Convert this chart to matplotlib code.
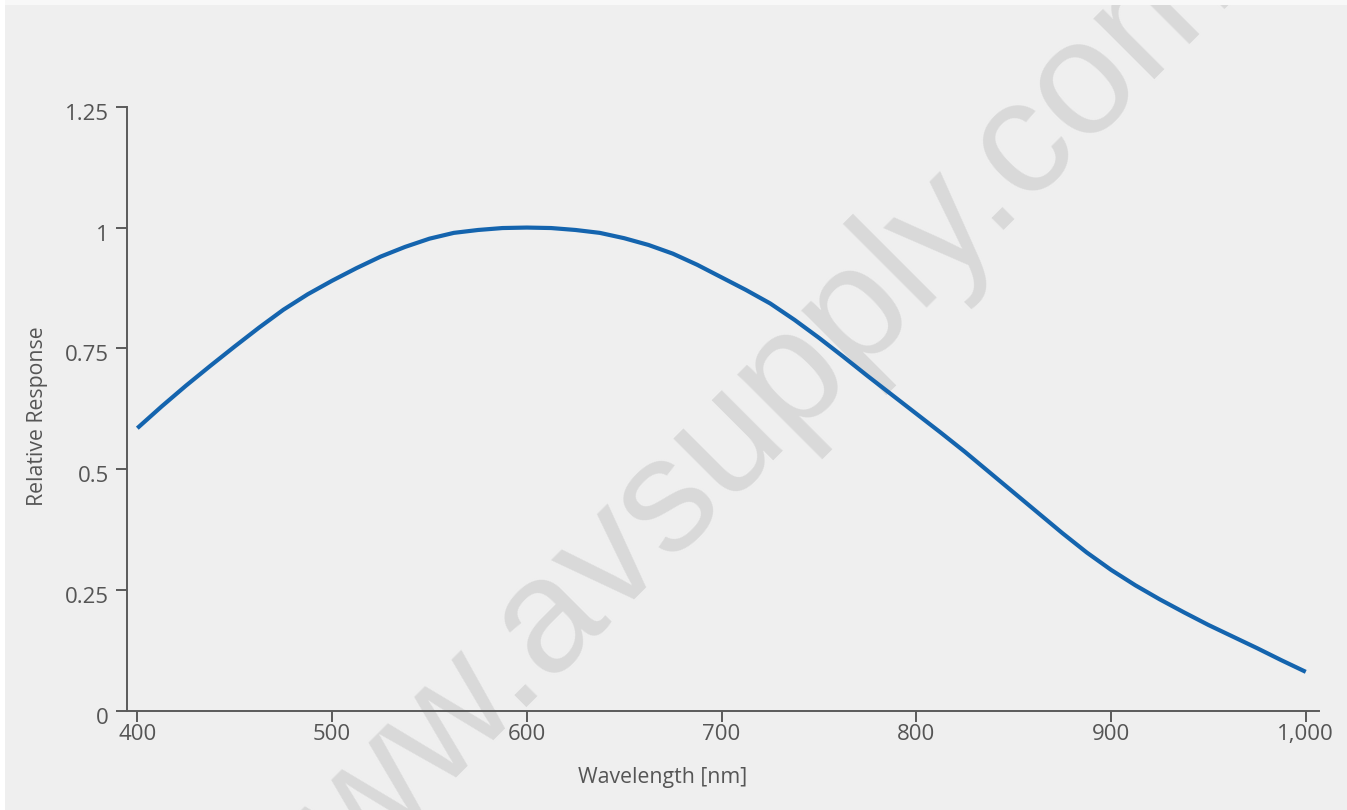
import matplotlib
matplotlib.use("Agg")
import matplotlib.pyplot as plt
from matplotlib.patches import Rectangle
from matplotlib.ticker import FuncFormatter
import matplotlib.transforms as mtransforms

# ---- data ----
wavelength_nm = [400, 412.5, 425, 437.5, 450, 462.5, 475, 487.5, 500, 512.5, 525, 537.5,
                 550, 562.5, 575, 587.5, 600, 612.5, 625, 637.5, 650, 662.5, 675, 687.5,
                 700, 712.5, 725, 737.5, 750, 762.5, 775, 787.5, 800, 812.5, 825, 837.5,
                 850, 862.5, 875, 887.5, 900, 912.5, 925, 937.5, 950, 962.5, 975, 987.5,
                 1000]
relative_response = [0.585, 0.630, 0.673, 0.714, 0.754, 0.793, 0.830, 0.862, 0.890,
                     0.916, 0.940, 0.960, 0.977, 0.989, 0.995, 0.999, 1.000, 0.999,
                     0.995, 0.989, 0.978, 0.964, 0.946, 0.923, 0.897, 0.871, 0.843,
                     0.809, 0.772, 0.733, 0.693, 0.654, 0.615, 0.576, 0.536, 0.494,
                     0.452, 0.410, 0.368, 0.328, 0.292, 0.260, 0.231, 0.204, 0.178,
                     0.154, 0.130, 0.105, 0.081]
x_ticks = [400, 500, 600, 700, 800, 900, 1000]
y_ticks = [0, 0.25, 0.5, 0.75, 1, 1.25]
y_tick_labels = ["0", "0.25", "0.5", "0.75", "1", "1.25"]
x_label = "Wavelength [nm]"
y_label = "Relative Response"
watermark = "www.avsupply.com"

W, H = 1347, 810
DPI = 100
plt.rcParams['font.family'] = ['Open Sans', 'DejaVu Sans']
TXT = "#555555"
AX = "#5a5a5a"

fig = plt.figure(figsize=(W / DPI, H / DPI), dpi=DPI, facecolor="white")

# background panel
fig.patches.append(Rectangle((5 / W, 0), 1 - 5 / W, 1 - 5 / H, transform=fig.transFigure,
                             facecolor="#efefef", edgecolor="none", zorder=-3))
# watermark
fig.text(759 / W, 1 - 476 / H, watermark, rotation=45, rotation_mode="anchor",
         ha="center", va="baseline", fontsize=117, color="#d9d9d9",
         family=["Liberation Sans", "DejaVu Sans"], zorder=-2)
# light strips on top / left covering watermark
fig.patches.append(Rectangle((0, 1 - 5 / H), 1, 5 / H, transform=fig.transFigure,
                             facecolor="#f8f8f8", edgecolor="none", zorder=-1))
fig.patches.append(Rectangle((0, 0), 5 / W, 1, transform=fig.transFigure,
                             facecolor="white", edgecolor="none", zorder=-1))

left, right = 127 / W, 1319 / W
bottom, top = 1 - 711 / H, 1 - 106.7 / H
ax = fig.add_axes([left, bottom, right - left, top - bottom])
ax.patch.set_visible(False)

ax.plot(wavelength_nm, relative_response, color="#1464ae", lw=3.0,
        solid_capstyle="butt", solid_joinstyle="round", zorder=3)

ax.set_xlim(394.7, 1006.8)
ax.set_ylim(0, 1.25)
ax.set_xticks(x_ticks)
ax.xaxis.set_major_formatter(FuncFormatter(lambda v, p: f"{int(v):,}"))
ax.set_yticks(y_ticks)
ax.set_yticklabels(y_tick_labels)

for s in ["top", "right"]:
    ax.spines[s].set_visible(False)
for s in ["left", "bottom"]:
    ax.spines[s].set_color(AX)
    ax.spines[s].set_linewidth(1.4)

ax.tick_params(axis="both", colors=AX, width=1.4, length=8, labelcolor=TXT,
               labelsize=16)
ax.tick_params(axis="x", pad=1.5)
ax.tick_params(axis="y", pad=5)

offset = mtransforms.ScaledTranslation(0, -5 / DPI, fig.dpi_scale_trans)
for lab in ax.get_yticklabels():
    lab.set_transform(lab.get_transform() + offset)

fig.text(663 / W, 1 - 778 / H, x_label, ha="center", va="center",
         fontsize=15.3, color=TXT)
fig.text(38 / W, 1 - 416 / H, y_label, ha="center", va="center", rotation=90,
         fontsize=15.3, color=TXT)

fig.savefig("out.png", dpi=DPI, facecolor="white")
